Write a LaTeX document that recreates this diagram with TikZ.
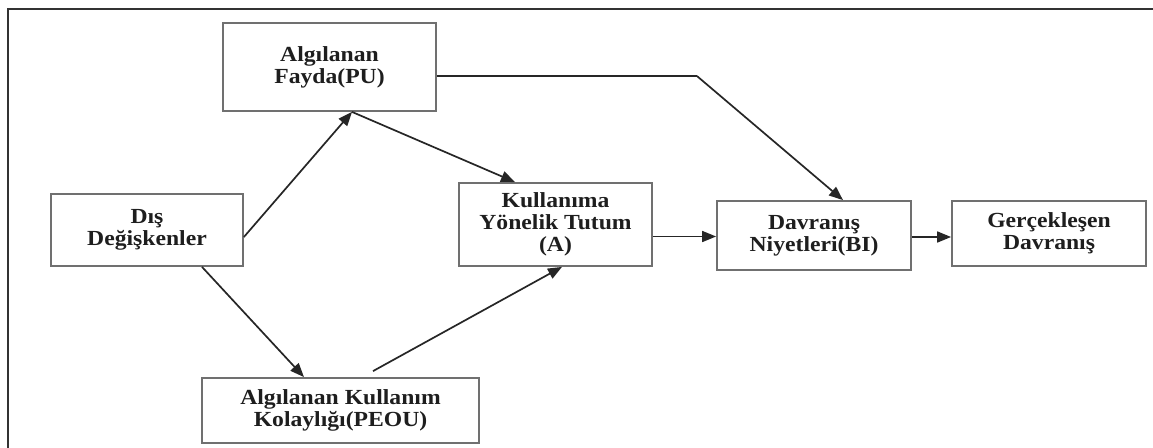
\documentclass[tikz,border=0pt]{standalone}
\usepackage{fontspec}
\setmainfont{Liberation Serif}[FakeStretch=1.1]
\usetikzlibrary{arrows.meta,calc}
\definecolor{boxline}{HTML}{707070}
\definecolor{ink}{HTML}{1E1E1E}
\definecolor{arrowc}{HTML}{262626}
\tikzset{
  box/.style={draw=boxline,line width=1.8pt,inner sep=0pt,align=center,
    text=ink,font=\fontsize{21.5}{22}\selectfont\bfseries},
  conn/.style={draw=arrowc,line width=1.7pt,-{Triangle[length=14pt,width=11pt]}},
  frame/.style={draw=black!80,line width=2.8pt}
}
\begin{document}
\begin{tikzpicture}[x=1pt,y=-1pt]
\useasboundingbox (0,0) rectangle (1153,447);
\fill[white] (0,0) rectangle (1153,447);
\draw[frame] (8,460) -- (8,9) -- (1160,9);

\node[box,minimum width=213pt,minimum height=88pt] (pu) at (329.5,67) {Algılanan\\Fayda(PU)};
\node[box,minimum width=192pt,minimum height=72pt] (dis) at (147,230) {Dış\\Değişkenler};
\node[box,minimum width=193pt,minimum height=83pt] (att) at (555.5,224.5) {Kullanıma\\Yönelik Tutum\\(A)};
\node[box,minimum width=194pt,minimum height=69pt] (bi) at (814,235.5) {Davranış\\Niyetleri(BI)};
\node[box,minimum width=194pt,minimum height=65pt] (ger) at (1049,233.5) {Gerçekleşen\\Davranış};
\node[box,minimum width=277pt,minimum height=65pt] (peou) at (340.5,410.5) {Algılanan Kullanım\\Kolaylığı(PEOU)};

\coordinate (bend) at ($(pu.east)+(260,9)$);

\draw[conn] ([yshift=-7pt]dis.east) -- ([xshift=22.5pt]pu.south);
\draw[conn] ([xshift=22.5pt]pu.south) -- ([xshift=-40.5pt]att.north);
\draw[conn] ([xshift=55pt]dis.south) -- ([xshift=-36.5pt]peou.north);
\draw[conn] ([xshift=32.5pt,yshift=6pt]peou.north) -- ([xshift=6.5pt]att.south);
\draw[conn] ([yshift=-12pt]att.east) -- ([yshift=-12pt]att.east -| bi.west);
\draw[conn] ([yshift=-1.5pt]bi.east) -- ([yshift=-1.5pt]bi.east -| ger.west);
\draw[draw=arrowc,line width=1.7pt] ([yshift=-9pt]pu.east) -- (bend);
\draw[conn] (bend) -- ([xshift=29pt]bi.north);
\end{tikzpicture}
\end{document}
